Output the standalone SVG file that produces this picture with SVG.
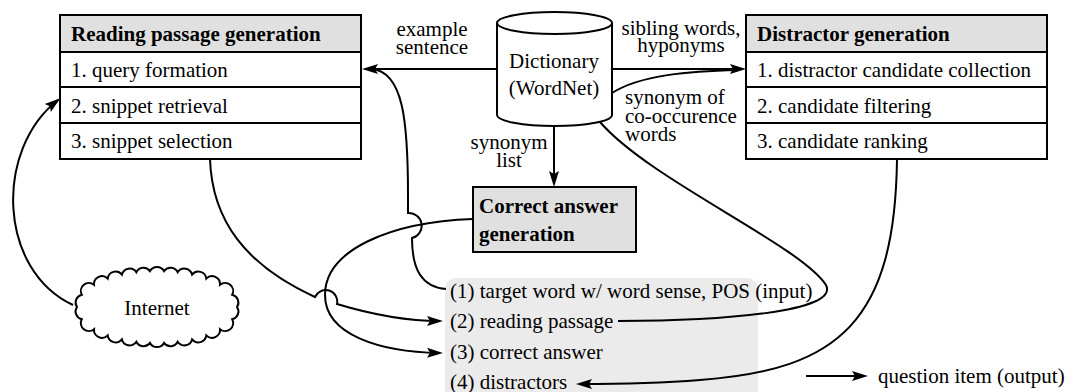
<svg xmlns="http://www.w3.org/2000/svg" width="1074" height="392" viewBox="0 0 1074 392">
<defs>
<style>
text{font-family:"Liberation Serif","Times New Roman",serif;font-size:21px;fill:#000}
.b{font-weight:bold}
.m{text-anchor:middle}
.box{fill:#fff;stroke:#000;stroke-width:2}
.hd{fill:#e0e0e0;stroke:#000;stroke-width:2}
.ln{fill:none;stroke:#000;stroke-width:2}
</style>
<marker id="arr" markerUnits="userSpaceOnUse" markerWidth="17" markerHeight="12" refX="13" refY="6" orient="auto">
<path d="M0,1 L16,6 L0,11 L3,6 Z" fill="#000"/>
</marker>
</defs>
<rect width="1074" height="392" fill="#fff"/>

<g id="output">
<rect x="445" y="278" width="313" height="124" rx="11" fill="#ebebeb"/>
<text x="450" y="298">(1) target word w/ word sense, POS (input)</text>
<text x="450" y="328">(2) reading passage</text>
<text x="450" y="359">(3) correct answer</text>
<text x="450" y="389">(4) distractors</text>
</g>

<g id="connectors">
<path class="ln" d="M497 69 L365 69" marker-end="url(#arr)"/>
<path class="ln" d="M612 69 L743 69" marker-end="url(#arr)"/>
<path class="ln" d="M612 93 C640 75 690 71 738 70"/>
<path class="ln" d="M554 126 L554 184" marker-end="url(#arr)"/>
<path class="ln" d="M73 305 C-2 270 -6 150 58 100" marker-end="url(#arr)"/>
<path class="ln" d="M210 159 C212 220 245 265 315 297 A11.6 11.6 0 0 1 337 304 C370 314 405 321 440 321" marker-end="url(#arr)"/>
<path class="ln" d="M473 219 C390 222 325 250 325 295 C325 335 380 352 440 353" marker-end="url(#arr)"/>
<path class="ln" d="M446 289 C422 287 412 270 412 238 A12.7 12.7 0 0 0 408 213 L408 195 C408 120 403 72 372 69"/>
<path class="ln" d="M618 321 C720 321 840 312 826 285 C800 245 650 180 600 122"/>
<path class="ln" d="M897 159 C895 320 840 370 700 380 C650 384 610 384 579 384" marker-end="url(#arr)"/>
<path class="ln" d="M806 376 L865 376" marker-end="url(#arr)"/>
</g>

<g id="labels">
<text class="m" x="432" y="36">example</text>
<text class="m" x="432" y="54">sentence</text>
<text class="m" x="681" y="35">sibling words,</text>
<text class="m" x="681" y="52">hyponyms</text>
<text x="625" y="104">synonym of</text>
<text x="625" y="123">co-occurence</text>
<text x="625" y="141">words</text>
<text class="m" x="509" y="149">synonym</text>
<text class="m" x="509" y="167">list</text>
<text x="878" y="383">question item (output)</text>
</g>

<g id="reading">
<rect class="hd" x="60" y="15" width="301" height="37"/>
<rect class="box" x="60" y="52" width="301" height="35"/>
<rect class="box" x="60" y="87" width="301" height="36"/>
<rect class="box" x="60" y="123" width="301" height="36"/>
<text class="b" x="71" y="41">Reading passage generation</text>
<text x="71" y="77">1. query formation</text>
<text x="71" y="113">2. snippet retrieval</text>
<text x="71" y="148">3. snippet selection</text>
</g>

<g id="distractor">
<rect class="hd" x="746" y="15" width="301" height="37"/>
<rect class="box" x="746" y="52" width="301" height="35"/>
<rect class="box" x="746" y="87" width="301" height="36"/>
<rect class="box" x="746" y="123" width="301" height="36"/>
<text class="b" x="757" y="41">Distractor generation</text>
<text x="757" y="77">1. distractor candidate collection</text>
<text x="757" y="113">2. candidate filtering</text>
<text x="757" y="148">3. candidate ranking</text>
</g>

<g id="dictionary">
<path class="box" d="M497 23 L497 115 A57.5 11 0 0 0 612 115 L612 23"/>
<ellipse class="box" cx="554.5" cy="23" rx="57.5" ry="11"/>
<text class="m" x="554" y="68">Dictionary</text>
<text class="m" x="554" y="95">(WordNet)</text>
</g>

<g id="correct">
<rect class="hd" x="473" y="187" width="163" height="65"/>
<text class="b" x="479" y="213">Correct answer</text>
<text class="b" x="479" y="241">generation</text>
</g>

<g id="internet">
<path class="box" d="M237 307 A8 8 0 0 1 232.2 319.3 A8 8 0 0 1 220 329.2 A8 8 0 0 1 206.3 335.4 A8 8 0 0 1 192.1 339.4 A8 8 0 0 1 177.7 341.8 A8 8 0 0 1 164 342.9 A8 8 0 0 1 150 342.9 A8 8 0 0 1 136.3 341.8 A8 8 0 0 1 121.9 339.4 A8 8 0 0 1 107.7 335.4 A8 8 0 0 1 94 329.2 A8 8 0 0 1 81.8 319.3 A8 8 0 0 1 77 307 A8 8 0 0 1 81.8 294.7 A8 8 0 0 1 94 284.8 A8 8 0 0 1 107.7 278.6 A8 8 0 0 1 121.9 274.6 A8 8 0 0 1 136.3 272.2 A8 8 0 0 1 150 271.1 A8 8 0 0 1 164 271.1 A8 8 0 0 1 177.7 272.2 A8 8 0 0 1 192.1 274.6 A8 8 0 0 1 206.3 278.6 A8 8 0 0 1 220 284.8 A8 8 0 0 1 232.2 294.7 A8 8 0 0 1 237 307 Z"/>
<text class="m" x="157" y="315">Internet</text>
</g>
</svg>
